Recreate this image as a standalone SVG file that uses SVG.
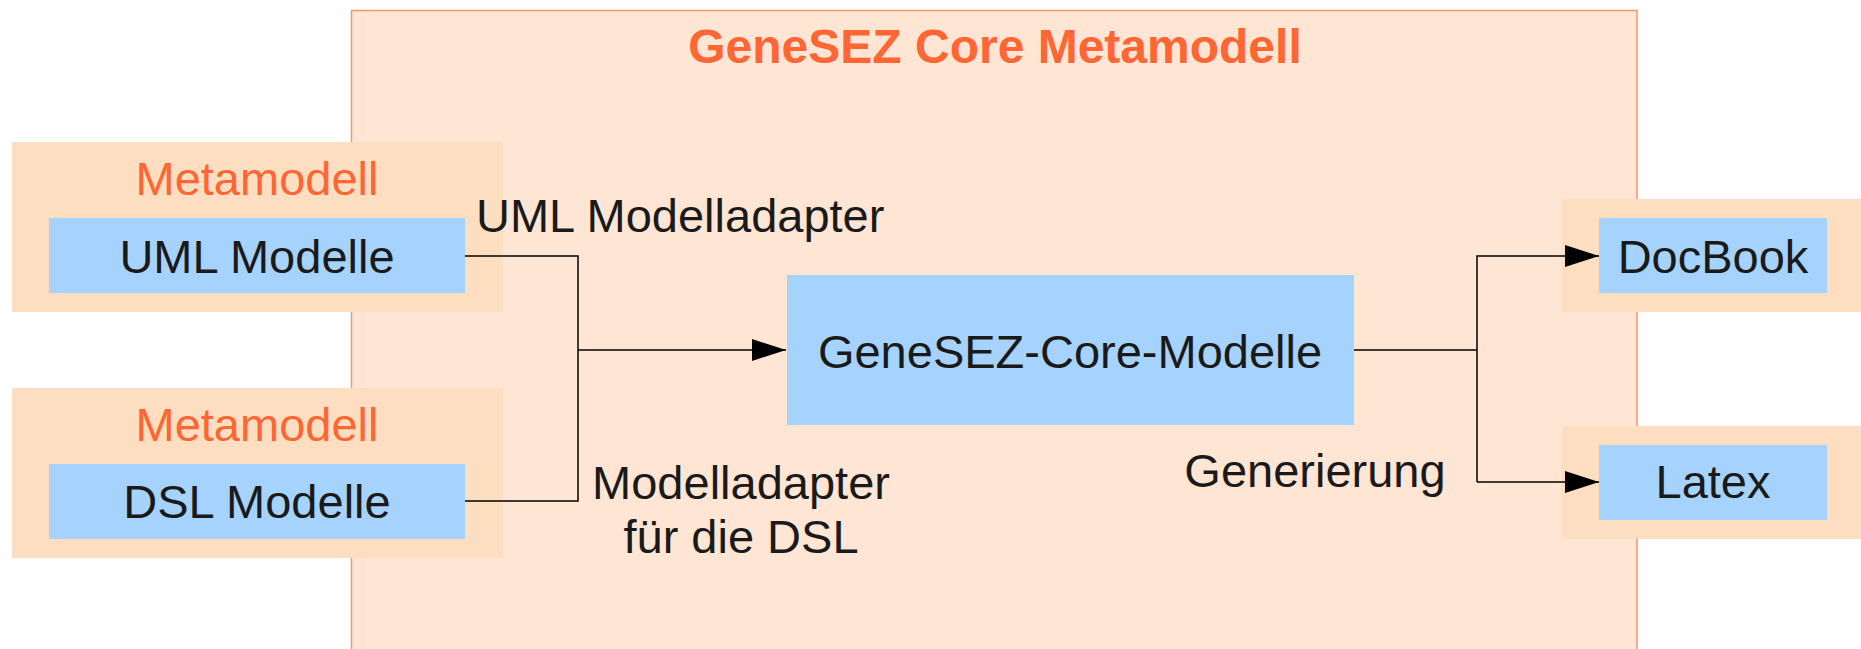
<svg xmlns="http://www.w3.org/2000/svg" width="1861" height="649" viewBox="0 0 1861 649">
<defs>
<style>
.t{font-family:"Liberation Sans",Arial,sans-serif;font-size:47px;fill:#1a1a1a;text-anchor:middle}
.o{fill:#ff6633}
.outer{fill:#fddec1}
.blue{fill:#a6d3fd}
.c{fill:none;stroke:#000;stroke-width:1.5}
</style>
<marker id="arr" markerUnits="userSpaceOnUse" markerWidth="36" markerHeight="24" refX="34" refY="11" orient="auto">
<path d="M0,0 L34,11 L0,22 z" fill="#000"/>
</marker>
</defs>
<rect width="1861" height="649" fill="#fff"/>
<g id="core-metamodell">
<rect x="351.5" y="10.5" width="1285.5" height="700" fill="#fee5d4" stroke="#ff9170" stroke-width="1.5"/>
<text class="t o" x="995" y="63" style="font-weight:bold;font-size:48px">GeneSEZ Core Metamodell</text>
</g>
<g id="uml">
<rect class="outer" x="12" y="142" width="491" height="170"/>
<text class="t o" x="257" y="195">Metamodell</text>
<rect class="blue" x="49" y="218" width="416" height="75"/>
<text class="t" x="257" y="273">UML Modelle</text>
</g>
<g id="dsl">
<rect class="outer" x="12" y="388" width="491" height="170"/>
<text class="t o" x="257" y="441">Metamodell</text>
<rect class="blue" x="49" y="464" width="416" height="75"/>
<text class="t" x="257" y="518">DSL Modelle</text>
</g>
<g id="core-modelle">
<rect class="blue" x="787" y="275" width="567" height="150"/>
<text class="t" x="1070" y="368">GeneSEZ-Core-Modelle</text>
</g>
<g id="docbook">
<rect class="outer" x="1562" y="199" width="320" height="113"/>
<rect class="blue" x="1599" y="218" width="228" height="75"/>
<text class="t" x="1713" y="273">DocBook</text>
</g>
<g id="latex">
<rect class="outer" x="1562" y="426" width="320" height="113"/>
<rect class="blue" x="1599" y="445" width="228" height="75"/>
<text class="t" x="1713" y="498">Latex</text>
</g>
<g id="connectors">
<path class="c" d="M465,256 H578 V501 H465"/>
<path class="c" d="M578,350 H786" marker-end="url(#arr)"/>
<path class="c" d="M1354,350 H1477"/>
<path class="c" d="M1477,482 V256 H1599" marker-end="url(#arr)"/>
<path class="c" d="M1477,482 H1599" marker-end="url(#arr)"/>
<text class="t" x="476" y="232" style="text-anchor:start">UML Modelladapter</text>
<text class="t" x="741" y="499">Modelladapter</text>
<text class="t" x="741" y="553">für die DSL</text>
<text class="t" x="1315" y="487">Generierung</text>
</g>
</svg>
